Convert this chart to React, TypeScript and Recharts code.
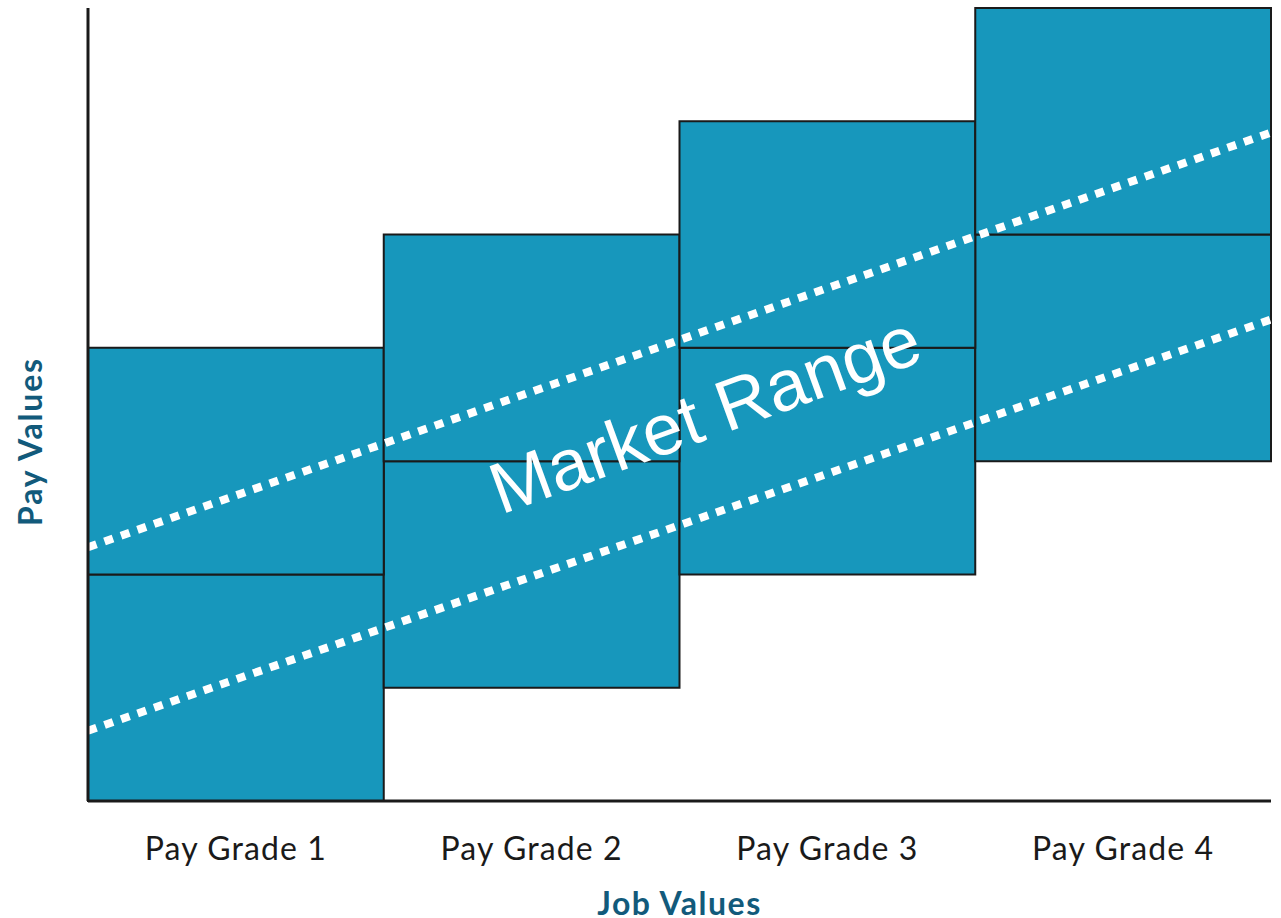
import React from "react";
import {
  ComposedChart,
  XAxis,
  YAxis,
  Line,
  ReferenceArea,
  ReferenceDot,
} from "recharts";

// Pay grades (categories) and their pay ranges (in pay-value units)
const categories = ["Pay Grade 1", "Pay Grade 2", "Pay Grade 3", "Pay Grade 4"];
const gradeStart = [0, 1, 2, 3];
const gradeEnd = [1, 2, 3, 4];
const rangeMin = [0, 1, 2, 3];
const rangeMid = [2, 3, 4, 5];
const rangeMax = [4, 5, 6, 7];

// Market range dotted lines (x position in job-value units)
const marketX = [0, 4];
const marketUpper = [2.24, 5.9];
const marketLower = [0.62, 4.25];

const tickPositions = [0.5, 1.5, 2.5, 3.5];

const lineData = marketX.map((x, i) => ({
  x,
  upper: marketUpper[i],
  lower: marketLower[i],
}));

const BOX_FILL = "#1797bc";
const LABEL_COLOR = "#125a7b";
const FONT = "Lato, sans-serif";

const MarketText = (props: any) => {
  const { cx, cy } = props;
  return (
    <text
      x={cx}
      y={cy}
      textAnchor="middle"
      fill="#ffffff"
      fontFamily="'Liberation Sans', Arial, sans-serif"
      fontSize={72}
      transform={`rotate(-20 ${cx} ${cy})`}
    >
      Market Range
    </text>
  );
};

const GradeTick = (props: any) => {
  const { x, y, payload } = props;
  return (
    <text
      x={x}
      y={y + 59}
      textAnchor="middle"
      fill="#1a1a1a"
      fontSize={32}
      letterSpacing={1.1}
      fontFamily={FONT}
    >
      {categories[Math.floor(payload.value)]}
    </text>
  );
};

const JobLabel = (props: any) => {
  const { viewBox } = props;
  const cx = viewBox.x + viewBox.width / 2;
  return (
    <text
      x={cx}
      y={viewBox.y + 114}
      textAnchor="middle"
      fill={LABEL_COLOR}
      fontSize={32}
      fontWeight={700}
      letterSpacing={1.5}
      fontFamily={FONT}
    >
      Job Values
    </text>
  );
};

const PayLabel = (props: any) => {
  const { viewBox } = props;
  const x = 42;
  const y = viewBox.y + viewBox.height / 2 + 37;
  return (
    <text
      x={x}
      y={y}
      textAnchor="middle"
      fill={LABEL_COLOR}
      fontSize={32}
      fontWeight={700}
      letterSpacing={1.8}
      fontFamily={FONT}
      transform={`rotate(-90 ${x} ${y})`}
    >
      Pay Values
    </text>
  );
};

export default function App() {
  return (
    <div style={{ position: "absolute", left: 0, top: 0, width: 1281, height: 918, overflow: "hidden" }}>
      <ComposedChart
        width={1281}
        height={918}
        data={lineData}
        margin={{ top: 8, right: 10, bottom: 0, left: 0 }}
      >
        <XAxis
          type="number"
          dataKey="x"
          domain={[0, 4]}
          ticks={tickPositions}
          tickLine={false}
          tickSize={0}
          tickMargin={0}
          height={117}
          axisLine={{ stroke: "#1a1a1a", strokeWidth: 3 }}
          tick={<GradeTick />}
          allowDataOverflow
          label={<JobLabel />}
        />
        <YAxis
          type="number"
          domain={[0, 7]}
          ticks={[]}
          tick={false}
          tickLine={false}
          width={88}
          axisLine={{ stroke: "#1a1a1a", strokeWidth: 3 }}
          allowDataOverflow
          label={<PayLabel />}
        />
        {categories.map((c, i) => (
          <ReferenceArea
            key={`low-${c}`}
            x1={gradeStart[i]}
            x2={gradeEnd[i]}
            y1={rangeMin[i]}
            y2={rangeMid[i]}
            fill={BOX_FILL}
            fillOpacity={1}
            stroke="#1a1a1a"
            strokeWidth={2}
            ifOverflow="visible"
          />
        ))}
        {categories.map((c, i) => (
          <ReferenceArea
            key={`high-${c}`}
            x1={gradeStart[i]}
            x2={gradeEnd[i]}
            y1={rangeMid[i]}
            y2={rangeMax[i]}
            fill={BOX_FILL}
            fillOpacity={1}
            stroke="#1a1a1a"
            strokeWidth={2}
            ifOverflow="visible"
          />
        ))}
        <Line
          dataKey="upper"
          stroke="#ffffff"
          strokeWidth={8}
          strokeDasharray="9 8.5"
          dot={false}
          activeDot={false}
          isAnimationActive={false}
        />
        <Line
          dataKey="lower"
          stroke="#ffffff"
          strokeWidth={8}
          strokeDasharray="9 8.5"
          dot={false}
          activeDot={false}
          isAnimationActive={false}
        />
        <ReferenceDot
          x={2.115}
          y={3.21}
          r={0}
          shape={MarketText}
          ifOverflow="visible"
        />
      </ComposedChart>
    </div>
  );
}
